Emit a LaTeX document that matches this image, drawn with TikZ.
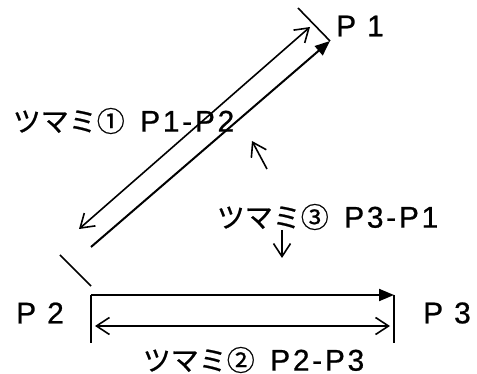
\documentclass[tikz,border=0pt]{standalone}
\usepackage{fontspec}
\setmainfont[FakeBold=0.7]{Noto Sans CJK JP}
\newfontfamily\latin[LetterSpace=9,Scale=1.07,FakeBold=0.7]{Liberation Sans}
\usetikzlibrary{arrows.meta}
\begin{document}
\begin{tikzpicture}
  [x=1pt,y=-1pt,line width=1.6pt,
   every node/.style={inner sep=0pt,font=\fontsize{28}{30}\selectfont},
   filltip/.style={line width=2pt,-{Triangle[length=15pt,width=12pt]}},
   opentip/.style={-{Straight Barb[length=13pt,width=17pt]}},
   opentips/.style={{Straight Barb[length=13pt,width=17pt]}-{Straight Barb[length=13pt,width=17pt]}}]
  \useasboundingbox (0,0) rectangle (477,374);

  % labels
  \node (p1) at (360,26) {\latin P 1};
  \node (p2) at (40,313) {\latin P 2};
  \node (p3) at (447,313) {\latin P 3};
  \node[anchor=west] (k1) at (12,121) {ツマミ①\hspace{.55em}{\latin P1-P2}};
  \node[anchor=west] (k3) at (216,217) {ツマミ③\hspace{.55em}{\latin P3-P1}};
  \node[anchor=west] (k2) at (142,360) {ツマミ②\hspace{.55em}{\latin P2-P3}};

  % end points
  \coordinate (c1) at (330,41);
  \coordinate (t1) at (298,8);
  \coordinate (c2) at (91,295);
  \coordinate (c3) at (394,295);
  \coordinate (b2) at (91,343);
  \coordinate (b3) at (394,343);
  \coordinate (t2) at (60,255);
  \coordinate (e2) at (91,286);
  \coordinate (d1) at (91,247);
  \coordinate (u1) at (79,229);
  \coordinate (u2) at (310,27);
  \coordinate (h1) at (95,326);
  \coordinate (h2) at (390,326);
  \coordinate (s1) at (267,169);
  \coordinate (s2) at (252,141);
  \coordinate (s3) at (282,230);
  \coordinate (s4) at (282,258);

  \foreach \from/\to in {t1/c1,t2/e2,c2/b2,c3/b3}
    \draw (\from) -- (\to);
  \foreach \from/\to in {d1/c1,c2/c3}
    \draw[filltip] (\from) -- (\to);
  \foreach \from/\to in {u1/u2,h1/h2}
    \draw[opentips] (\from) -- (\to);
  \foreach \from/\to in {s1/s2,s3/s4}
    \draw[opentip] (\from) -- (\to);

\end{tikzpicture}
\end{document}
